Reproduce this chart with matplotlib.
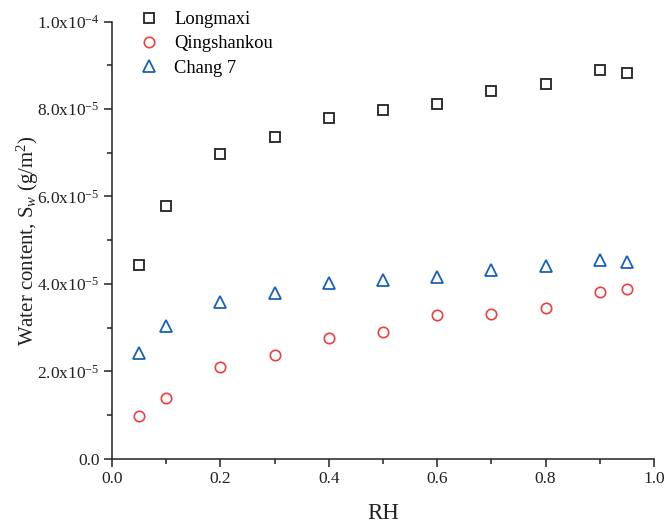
import matplotlib
matplotlib.use("Agg")
import matplotlib.pyplot as plt
from matplotlib.ticker import FixedLocator, MultipleLocator, FuncFormatter

# data
rh = [0.05, 0.1, 0.2, 0.3, 0.4, 0.5, 0.6, 0.7, 0.8, 0.9, 0.95]
longmaxi = [4.44, 5.79, 6.98, 7.35, 7.80, 7.97, 8.11, 8.42, 8.58, 8.90, 8.83]
qingshankou = [0.99, 1.39, 2.10, 2.37, 2.77, 2.91, 3.29, 3.31, 3.45, 3.81, 3.89]
chang7 = [2.43, 3.04, 3.59, 3.79, 4.01, 4.08, 4.16, 4.32, 4.40, 4.55, 4.51]
scale = 1e-5

y_ticks = [0.0, 2e-5, 4e-5, 6e-5, 8e-5, 1e-4]
y_tick_labels = ["0.0", r"2.0x10$^{-5}$", r"4.0x10$^{-5}$", r"6.0x10$^{-5}$",
                 r"8.0x10$^{-5}$", r"1.0x10$^{-4}$"]

plt.rcParams["font.family"] = ["Liberation Serif", "DejaVu Serif"]
plt.rcParams["mathtext.fontset"] = "custom"
plt.rcParams["mathtext.rm"] = "Liberation Serif"
plt.rcParams["mathtext.it"] = "Liberation Serif:italic"

fig = plt.figure(figsize=(6.66, 5.25), dpi=100)
ax = fig.add_axes([0.168, 0.126, 0.814, 0.833])

ax.plot(rh, [v * scale for v in longmaxi], ls="none", marker="s", ms=6.5,
        mfc="none", mec="#222222", mew=1.3, label="Longmaxi")
ax.plot(rh, [v * scale for v in qingshankou], ls="none", marker="o", ms=7.5,
        mfc="none", mec="#EE3F42", mew=1.2, label="Qingshankou")
ax.plot(rh, [v * scale for v in chang7], ls="none", marker="^", ms=8.5,
        mfc="none", mec="#1862B5", mew=1.3, label="Chang 7")

ax.set_xlim(0, 1.0)
ax.set_ylim(0, 1e-4)
ax.xaxis.set_major_locator(MultipleLocator(0.2))
ax.xaxis.set_minor_locator(MultipleLocator(0.1))
ax.xaxis.set_major_formatter(FuncFormatter(lambda v, p: f"{v:.1f}"))
ax.yaxis.set_major_locator(FixedLocator(y_ticks))
ax.set_yticklabels(y_tick_labels)
ax.yaxis.set_minor_locator(MultipleLocator(1e-5))

for s in ["top", "right"]:
    ax.spines[s].set_visible(False)
for s in ["left", "bottom"]:
    ax.spines[s].set_linewidth(1.1)
    ax.spines[s].set_color("#222222")

ax.tick_params(which="major", direction="out", length=6, width=1.1,
               labelsize=12.5, colors="#222222", pad=3)
ax.tick_params(which="minor", direction="out", length=3.5, width=1.1,
               colors="#222222")

ax.set_xlabel("RH", fontsize=16.5, color="#222222")
ax.xaxis.set_label_coords(0.5, -0.1)
ax.set_ylabel(r"Water content, S$_w$ (g/m$^2$)", fontsize=15,
              color="#222222")
ax.yaxis.set_label_coords(-0.13, 0.5)

ax.legend(loc="upper left", bbox_to_anchor=(0.013, 1.062), frameon=False,
          fontsize=13.3, handletextpad=0.6, labelspacing=0.4, handlelength=1.5)

fig.savefig("out.png", dpi=100)
plt.close(fig)
